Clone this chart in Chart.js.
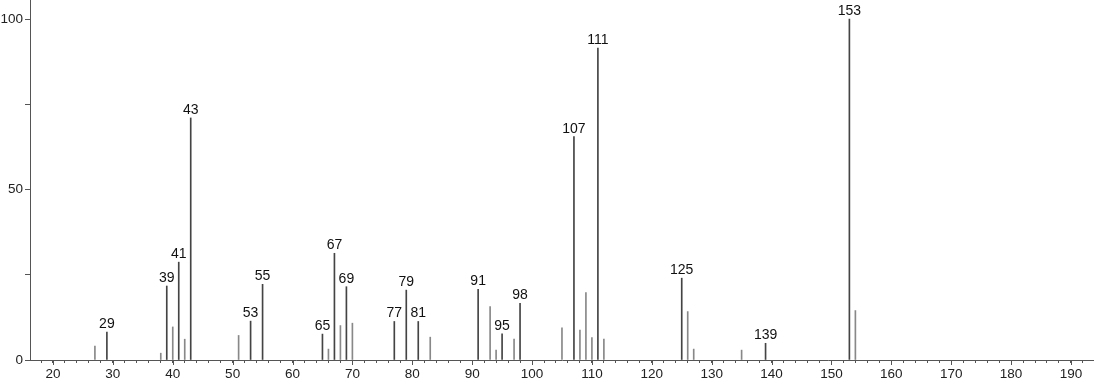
<!DOCTYPE html>
<html>
<head>
<meta charset="utf-8">
<script src="https://cdn.jsdelivr.net/npm/chart.js@4"></script>
<style>
  html, body { margin: 0; padding: 0; background: #fff; }
  #wrap { width: 1094px; height: 384px; }
</style>
</head>
<body>
<div id="wrap"><canvas id="spectrum" width="1094" height="384"></canvas></div>
<script>
// m/z values and relative intensities
const mz = [27, 29, 38, 39, 40, 41, 42, 43, 51, 53, 55, 65, 66, 67, 68, 69, 70, 77, 79, 81, 83,
            91, 93, 94, 95, 97, 98, 105, 107, 108, 109, 110, 111, 112, 125, 126, 127, 135, 139, 153, 154];
const intensity = [4.1, 8.2, 2.0, 21.7, 9.7, 28.7, 6.1, 71.0, 7.2, 11.4, 22.2, 7.6, 3.2, 31.3, 10.1, 21.5, 10.8,
                   11.3, 20.5, 11.3, 6.7, 20.7, 15.7, 2.9, 7.7, 6.1, 16.6, 9.4, 65.5, 8.8, 19.8, 6.6, 91.5, 6.1,
                   24.0, 14.2, 3.2, 2.9, 4.9, 100, 14.5];
const labeledPeaks = [29, 39, 41, 43, 53, 55, 65, 67, 69, 77, 79, 81, 91, 95, 98, 107, 111, 125, 139, 153];
const xTickLabels = [20, 30, 40, 50, 60, 70, 80, 90, 100, 110, 120, 130, 140, 150, 160, 170, 180, 190];
const yTickLabels = [0, 50, 100];

const FONT = '"Liberation Sans", Arial, sans-serif';
const AXIS = '#555';

// peak labels + longer ticks at every 10
const peakLabels = {
    id: 'peakLabels',
    afterDatasetsDraw(chart) {
        const { ctx, scales: { x, y } } = chart;
        ctx.save();
        ctx.font = '14px ' + FONT;
        ctx.fillStyle = '#111';
        ctx.textAlign = 'center';
        ctx.textBaseline = 'bottom';
        mz.forEach((m, i) => {
            if (!labeledPeaks.includes(m)) return;
            ctx.fillText(String(m), x.getPixelForValue(m), y.getPixelForValue(intensity[i]) - 1);
        });
        // major ticks
        ctx.strokeStyle = AXIS;
        ctx.lineWidth = 1;
        const b = chart.chartArea.bottom;
        xTickLabels.forEach(v => {
            const px = Math.round(x.getPixelForValue(v)) + 0.5;
            ctx.beginPath();
            ctx.moveTo(px, b);
            ctx.lineTo(px, b + 5);
            ctx.stroke();
        });
        ctx.restore();
    }
};

const ctx = document.getElementById('spectrum').getContext('2d');
new Chart(ctx, {
    type: 'bar',
    data: {
        datasets: [{
            data: mz.map((m, i) => ({ x: m, y: intensity[i] })),
            backgroundColor: mz.map(m => labeledPeaks.includes(m) ? '#444' : '#888'),
            barThickness: 1,
            borderWidth: 0
        }]
    },
    options: {
        responsive: false,
        animation: false,
        layout: { padding: 0 },
        plugins: {
            legend: { display: false },
            tooltip: { enabled: false }
        },
        scales: {
            x: {
                type: 'linear',
                offset: false,
                min: 16.16,
                max: 193.85,
                afterBuildTicks: s => {
                    const t = [];
                    for (let v = 18; v <= 192; v += 2) t.push({ value: v });
                    s.ticks = t;
                },
                afterFit: s => {
                    s.height = 24;
                    s.paddingLeft = 0;
                    s.paddingRight = 0;
                },
                ticks: {
                    autoSkip: false,
                    maxRotation: 0,
                    padding: 3,
                    color: '#222',
                    font: { family: FONT, size: 13.5 },
                    callback: v => xTickLabels.includes(v) ? String(v) : ''
                },
                grid: { drawOnChartArea: false, offset: false, tickLength: 3, color: AXIS },
                border: { color: AXIS }
            },
            y: {
                min: 0,
                max: 105.6,
                afterBuildTicks: s => {
                    s.ticks = [0, 25, 50, 75, 100].map(v => ({ value: v }));
                },
                afterFit: s => {
                    s.width = 30;
                    s.paddingTop = 0;
                    s.paddingBottom = 0;
                },
                ticks: {
                    padding: 2,
                    color: '#222',
                    font: { family: FONT, size: 13.5 },
                    callback: v => yTickLabels.includes(v) ? String(v) : ''
                },
                grid: { drawOnChartArea: false, tickLength: 5, color: AXIS },
                border: { color: AXIS }
            }
        }
    },
    plugins: [peakLabels]
});
</script>
</body>
</html>
